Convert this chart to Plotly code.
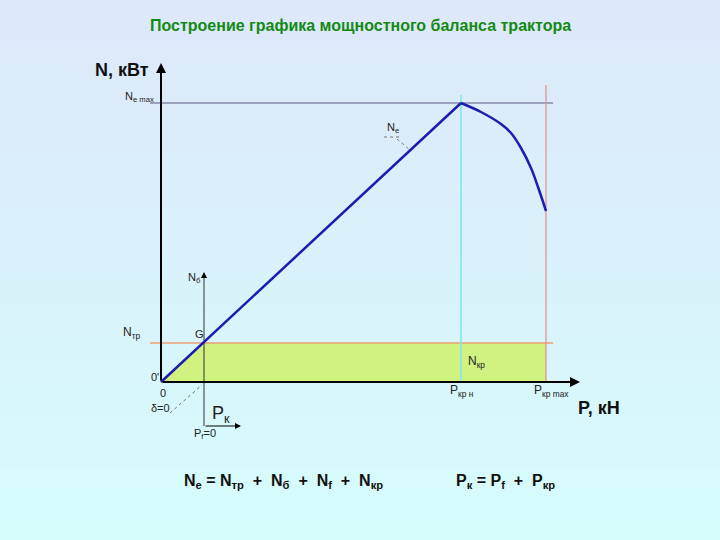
import plotly.graph_objects as go

# ---- data (P in kN, N in kW; arbitrary units) ----
P_line = [0, 30]
N_line = [0, 27.9]
P_curve = [30, 32, 34, 35, 36, 37, 37.7, 38.5]
N_curve = [27.9, 27.0, 25.8, 24.9, 23.4, 21.4, 19.5, 17.1]
N_max = 27.9
N_tr = 3.9
P_kr_n = 30
P_kr_max = 38.5
P_G = N_tr * P_line[1] / N_line[1]

title = "Построение графика мощностного баланса трактора"

fig = go.Figure()

# background gradient
n = 60
top = (221, 232, 250)
bot = (214, 252, 252)
shapes = []
for i in range(n):
    t = i / (n - 1)
    c = tuple(int(round(top[k] + (bot[k] - top[k]) * t)) for k in range(3))
    shapes.append(dict(type="rect", xref="paper", yref="paper", x0=0, x1=1,
                       y0=1 - (i + 1) / n, y1=1 - i / n + 0.001,
                       fillcolor=f"rgb{c}", line=dict(width=0), layer="below"))

# green region N_kr
fig.add_trace(go.Scatter(x=[0, P_G, P_kr_max, P_kr_max, 0], y=[0, N_tr, N_tr, 0, 0],
                         fill="toself", fillcolor="rgb(208,242,128)", mode="none",
                         hoverinfo="skip", showlegend=False))

def seg(x, y, color, width, dash="solid"):
    fig.add_trace(go.Scatter(x=x, y=y, mode="lines", line=dict(color=color, width=width, dash=dash),
                             hoverinfo="skip", showlegend=False))

seg([-1.1, 39.2], [N_max, N_max], "#5a5a80", 1)
seg([-1.1, 39.2], [N_tr, N_tr], "#eea070", 1.5)
seg([P_kr_n, P_kr_n], [0, 28.7], "#7ae6f0", 1.5)
seg([P_kr_max, P_kr_max], [0, 29.7], "#f08888", 1.2)
seg([4.3, 4.3], [-4.4, 10.6], "#333333", 1)
seg([0.9, 4.1], [-3.1, -0.3], "#777777", 1, "dot")
seg([23.6, 24.9], [24.3, 23.2], "#777777", 1, "dot")
seg([22.3, 24.0], [24.5, 24.5], "#777777", 1, "dot")

# Ne curve
fig.add_trace(go.Scatter(x=P_line, y=N_line, mode="lines", line=dict(color="#1c1cb0", width=2.5),
                         hoverinfo="skip", showlegend=False))
fig.add_trace(go.Scatter(x=P_curve, y=N_curve, mode="lines", line=dict(color="#1c1cb0", width=2.5, shape="spline"),
                         hoverinfo="skip", showlegend=False))

ann = []
def arrow(x0, y0, x1, y1, w=2, size=1.0, head=2):
    ann.append(dict(x=x1, y=y1, ax=x0, ay=y0, xref="x", yref="y", axref="x", ayref="y",
                    showarrow=True, arrowhead=head, arrowwidth=w, arrowsize=size, arrowcolor="black", text=""))

arrow(0, 0, 0, 31.9, 2, 1.0)
arrow(0, 0, 41.9, 0, 2, 1.0)
arrow(4.3, 10.5, 4.3, 11.0, 1, 1.2)
arrow(4.3, -4.4, 8.0, -4.4, 1, 1.2)

def lab(x, y, text, size=11, bold=False, color="#222222", xanchor="center"):
    ann.append(dict(x=x, y=y, xref="x", yref="y", text=f"<b>{text}</b>" if bold else text,
                    showarrow=False, xanchor=xanchor,
                    font=dict(family="Liberation Sans, Arial", size=size, color=color)))

sp = "&nbsp;"
pl = f"{sp}{sp}+{sp}{sp}"
lab(-1.0, 31.2, "N, кВт", 18, True, "#111111", "right")
lab(-3.8, 28.5, "N<sub>e max</sub>", 11, xanchor="left")
lab(23.2, 25.4, "N<sub>e</sub>", 11)
lab(4.2, 10.4, "N<sub>б</sub>", 11, xanchor="right")
lab(-2.9, 4.9, "N<sub>тр</sub>", 12)
lab(3.8, 4.8, "G", 11)
lab(-0.6, 0.5, "0'", 11)
lab(0.2, -1.1, "0", 11)
lab(-0.1, -2.6, "δ=0", 11)
lab(4.4, -5.2, "P<sub>f</sub>=0", 11)
lab(6.0, -3.2, "P<sub>к</sub>", 18)
lab(31.5, 2.0, "N<sub>кр</sub>", 12)
lab(30.1, -0.9, "P<sub>кр н</sub>", 12)
lab(39.0, -0.9, "P<sub>кр max</sub>", 12)
lab(43.8, -2.6, "P, кН", 18, True, "#111111")
lab(12.2, -9.9, f"N<sub>e</sub>{sp}={sp}N<sub>тр</sub>{pl}N<sub>б</sub>{pl}N<sub>f</sub>{pl}N<sub>кр</sub>", 16, True, "#111111")
lab(34.4, -9.9, f"P<sub>к</sub>{sp}={sp}P<sub>f</sub>{pl}P<sub>кр</sub>", 16, True, "#111111")

ann.append(dict(x=0.5, y=1 - 15 / 540, xref="paper", yref="paper", text=f"<b>{title}</b>",
                showarrow=False, font=dict(family="Liberation Sans, Arial", size=16, color="#138a13")))

fig.update_layout(
    width=720, height=540, margin=dict(l=0, r=0, t=0, b=0), autosize=False,
    paper_bgcolor="white", plot_bgcolor="rgba(0,0,0,0)",
    shapes=shapes, annotations=ann, showlegend=False,
    xaxis=dict(range=[-16.1, 55.9], visible=False, fixedrange=True),
    yaxis=dict(range=[-15.8, 38.2], visible=False, fixedrange=True),
)

fig.write_html("out.html", config={"displayModeBar": False},
               post_script="document.body.style.margin='0';document.body.style.overflow='hidden';")
